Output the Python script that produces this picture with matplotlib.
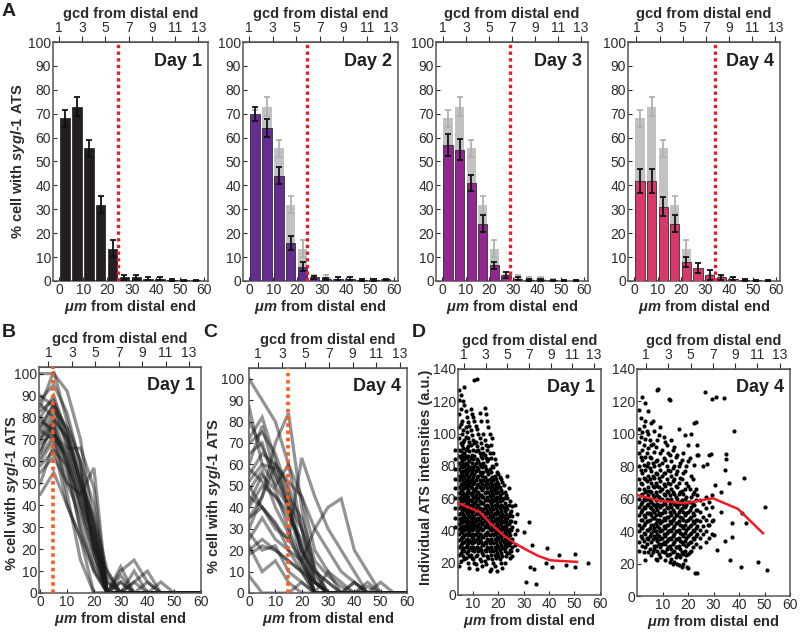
import matplotlib
matplotlib.use('Agg')
import matplotlib.pyplot as plt

plt.rcParams['font.family'] = ['Liberation Sans', 'DejaVu Sans']
plt.rcParams['mathtext.fontset'] = 'custom'
plt.rcParams['mathtext.it'] = 'Liberation Sans:italic:bold'
plt.rcParams['mathtext.rm'] = 'Liberation Sans:bold'
plt.rcParams['mathtext.bf'] = 'Liberation Sans:bold'

# ---------------- panel A: binned % of cells with ATS ----------------
bin_um = [2.5, 7.4, 12.3, 17.2, 22.1, 27.0, 31.9, 36.8, 41.7, 46.6, 51.5, 56.4]
day1_pct = [68, 73, 55.5, 32, 13.5, 1.5, 1.5, 1, 1, 0.5, 0.3, 0.3]
day1_err = [3.5, 4, 3.5, 3.5, 3.5, 1.2, 1, 0.6, 0.6, 0.3, 0.2, 0.2]
day2_pct = [70, 64, 44, 16, 6, 1.5, 0.8, 1, 1, 0.5, 0.5, 0.7]
day2_err = [3, 3.8, 3.5, 3, 2, 0.8, 0.5, 0.5, 0.5, 0.3, 0.3, 0.3]
day3_pct = [57, 55, 41, 24, 6.5, 2.5, 1, 0.5, 0.5, 0.3, 0.2, 0.2]
day3_err = [4.5, 4.5, 3.5, 3.5, 1.5, 1.2, 0.5, 0.3, 0.3, 0.2, 0.1, 0.1]
day4_pct = [42, 42, 31, 24, 8, 5.5, 2.5, 1.5, 1, 0.5, 0.3, 0.2]
day4_err = [5, 5, 4, 3.5, 2.2, 2, 2, 1, 0.5, 0.3, 0.2, 0.1]
day_names = ['Day 1', 'Day 2', 'Day 3', 'Day 4']
day_colors = ['#231f20', '#662d91', '#92278f', '#d9386b']
cutoff_um = [24.5, 24, 28.5, 34]

# ---------------- panels B / C: per-gonad profiles ----------------
prof_um = [0, 5, 10, 15, 20, 25, 30, 35, 40, 45, 50, 55, 60]
b_lines = [
    [100, 100, 92, 70, 30, 0, 0, 0, 0, 0, 0, 0, 0],
    [88, 95, 82, 58, 18, 0, 0, 0, 0, 0, 0, 0, 0],
    [75, 86, 75, 50, 22, 0, 0, 0, 0, 0, 0, 0, 0],
    [60, 70, 64, 45, 25, 0, 10, 15, 5, 0, 0, 0, 0],
    [45, 55, 40, 25, 10, 0, 0, 0, 0, 0, 0, 0, 0],
    [70, 80, 60, 40, 20, 0, 0, 0, 0, 0, 0, 0, 0],
    [80, 90, 72, 55, 30, 0, 12, 0, 5, 0, 0, 0, 0],
    [65, 76, 55, 30, 10, 0, 0, 0, 0, 0, 0, 0, 0],
    [86, 80, 70, 50, 30, 5, 0, 0, 0, 0, 0, 0, 0],
    [55, 62, 50, 45, 57, 0, 5, 0, 0, 0, 0, 0, 0],
    [62, 72, 66, 66, 48, 0, 0, 0, 0, 0, 0, 0, 0],
    [72, 83, 75, 60, 20, 10, 0, 5, 10, 0, 0, 0, 0],
    [50, 68, 40, 25, 0, 0, 0, 0, 0, 0, 0, 0, 0],
    [78, 75, 45, 15, 0, 0, 0, 0, 0, 0, 0, 0, 0],
    [83, 88, 72, 50, 35, 10, 0, 10, 0, 5, 0, 0, 0],
    [68, 73, 62, 40, 22, 5, 0, 0, 0, 0, 0, 0, 0],
    [74, 70, 50, 35, 15, 0, 5, 0, 0, 0, 0, 0, 0],
    [90, 85, 66, 45, 25, 0, 0, 0, 0, 0, 0, 0, 0],
    [58, 65, 58, 38, 18, 0, 0, 0, 0, 0, 0, 0, 0],
    [76, 86, 68, 48, 28, 0, 0, 5, 0, 0, 0, 0, 0],
    [64, 79, 71, 52, 32, 8, 0, 0, 0, 0, 0, 0, 0],
    [85, 101, 78, 60, 40, 0, 0, 0, 0, 0, 0, 0, 0],
    [70, 77, 58, 28, 12, 0, 0, 0, 0, 0, 0, 0, 0],
    [80, 72, 60, 42, 26, 0, 8, 0, 0, 0, 0, 0, 0],
]
c_lines = [
    [100, 90, 80, 60, 30, 5, 0, 0, 0, 0, 0, 0, 0],
    [87, 60, 50, 40, 20, 0, 0, 0, 0, 0, 0, 0, 0],
    [72, 82, 62, 40, 15, 0, 0, 0, 0, 0, 0, 0, 0],
    [55, 65, 60, 52, 45, 30, 20, 10, 5, 0, 0, 0, 0],
    [30, 45, 70, 84, 40, 10, 0, 0, 0, 0, 0, 0, 0],
    [20, 25, 20, 15, 10, 0, 0, 0, 0, 0, 0, 0, 0],
    [8, 0, 0, 0, 5, 0, 0, 0, 0, 0, 0, 0, 0],
    [40, 50, 45, 35, 25, 5, 0, 0, 0, 0, 0, 0, 0],
    [45, 40, 32, 25, 63, 45, 30, 20, 10, 0, 0, 0, 0],
    [25, 35, 25, 20, 15, 30, 40, 44, 20, 10, 0, 0, 0],
    [60, 78, 55, 40, 20, 10, 5, 0, 0, 0, 0, 0, 0],
    [18, 22, 20, 15, 10, 5, 0, 0, 5, 0, 0, 0, 0],
    [35, 45, 60, 50, 30, 10, 5, 0, 5, 0, 0, 0, 0],
    [65, 70, 50, 60, 45, 20, 10, 5, 0, 5, 0, 0, 0],
    [50, 40, 30, 25, 15, 0, 0, 0, 0, 0, 0, 0, 0],
    [28, 20, 22, 10, 5, 0, 10, 0, 0, 0, 0, 0, 0],
    [42, 55, 48, 30, 15, 5, 0, 0, 0, 0, 0, 0, 0],
    [70, 75, 65, 47, 20, 8, 0, 0, 0, 0, 0, 0, 0],
    [22, 10, 15, 5, 0, 0, 0, 0, 0, 0, 0, 0, 0],
    [52, 60, 58, 45, 35, 15, 8, 3, 0, 3, 0, 0, 0],
    [35, 40, 33, 20, 10, 0, 0, 0, 0, 0, 0, 0, 0],
    [48, 57, 40, 28, 12, 5, 0, 0, 0, 0, 5, 0, 0],
    [58, 52, 45, 38, 22, 0, 0, 0, 0, 0, 0, 0, 0],
    [80, 68, 55, 42, 30, 12, 0, 0, 0, 0, 0, 0, 0],
]
b_cut_um = 4.6
c_cut_um = 14.7

# ---------------- panel D: individual ATS intensities ----------------
d1_col_x = [3.0, 4.5, 5.5, 6.5, 7.5, 8.5, 9.5, 10.5, 11.5, 12.5, 13.5, 14.5,
            15.5, 16.5, 17.5, 18.5, 19.5, 20.5, 21.5, 22.5, 23.5, 24.5, 25.5,
            26.5, 27.5]
d1_col_y = [
    [90, 84, 78, 72, 66, 60, 54, 48, 42],
    [127, 121, 112, 104, 97, 90, 86, 82, 78, 74, 71, 67, 63, 60, 57, 54, 50, 47, 44, 41, 38, 34, 30, 25, 18],
    [108, 100, 93, 87, 83, 79, 75, 72, 68, 65, 62, 58, 55, 52, 48, 45, 42, 39, 36, 32, 28],
    [129, 118, 96, 88, 84, 80, 77, 73, 69, 66, 61, 59, 56, 53, 49, 46, 43, 40, 37, 33, 27, 22],
    [110, 101, 91, 85, 81, 76, 70, 67, 64, 60, 57, 51, 47, 44, 41, 38, 35, 31, 26],
    [105, 95, 89, 83, 78, 74, 71, 68, 63, 59, 55, 52, 49, 45, 42, 39, 34, 29, 24, 17],
    [112, 99, 87, 82, 77, 72, 66, 62, 58, 54, 50, 46, 43, 40, 36, 32, 28, 23],
    [133, 108, 94, 86, 80, 75, 70, 65, 61, 57, 53, 48, 44, 41, 37, 33, 27, 20],
    [134, 103, 92, 84, 79, 73, 68, 64, 60, 56, 51, 47, 43, 39, 35, 30, 25, 16],
    [113, 97, 88, 81, 76, 71, 67, 62, 58, 54, 50, 46, 42, 38, 34, 29, 22],
    [91, 85, 79, 74, 69, 65, 61, 57, 52, 48, 44, 40, 36, 31, 26, 18],
    [116, 96, 87, 80, 73, 68, 63, 59, 55, 51, 47, 43, 38, 33, 28, 21],
    [108, 90, 83, 77, 71, 66, 61, 56, 52, 48, 44, 39, 35, 30, 24],
    [100, 88, 78, 72, 67, 62, 58, 53, 49, 45, 41, 37, 32, 27, 15],
    [97, 80, 73, 68, 64, 59, 55, 50, 46, 42, 38, 33, 28, 22],
    [84, 74, 69, 65, 60, 56, 51, 47, 43, 39, 35, 30, 25, 18],
    [76, 70, 66, 61, 57, 52, 48, 44, 40, 36, 31, 26, 15],
    [73, 67, 62, 58, 54, 49, 45, 41, 37, 33, 28, 22],
    [70, 63, 59, 55, 50, 46, 42, 38, 34, 29, 24, 17],
    [64, 57, 52, 47, 43, 39, 35, 31, 27, 20],
    [74, 60, 53, 48, 44, 40, 36, 32, 26],
    [58, 51, 46, 41, 37, 33, 28, 23],
    [55, 49, 42, 35, 30, 24],
    [56, 45, 38, 31],
    [50, 40, 28],
]
d1_col2_x = [5.0, 6.0, 7.0, 8.0, 9.0, 10.0, 11.0, 12.0, 13.0, 14.0, 15.0, 16.0,
             17.0, 18.0, 19.0, 20.0, 21.0, 22.0, 23.0, 24.0, 25.0]
d1_col2_y = [
    [124, 115, 106, 94, 89, 85, 80, 76, 73, 69, 65, 61, 58, 55, 51, 48, 45, 42, 39, 35, 31, 26, 21],
    [120, 102, 95, 91, 86, 81, 77, 74, 70, 66, 63, 60, 56, 53, 50, 47, 43, 40, 36, 33, 29, 24],
    [114, 104, 98, 90, 86, 82, 78, 75, 71, 68, 62, 58, 55, 52, 48, 45, 42, 38, 34, 30, 23],
    [107, 97, 92, 86, 80, 77, 73, 69, 65, 61, 57, 53, 50, 46, 43, 40, 37, 32, 27, 20],
    [115, 102, 93, 85, 79, 75, 70, 67, 63, 59, 56, 52, 48, 44, 41, 37, 33, 30, 25],
    [110, 96, 90, 84, 78, 73, 69, 64, 60, 56, 52, 49, 45, 42, 38, 35, 30, 22],
    [105, 95, 89, 82, 77, 71, 66, 62, 58, 54, 50, 46, 42, 38, 34, 29, 24, 19],
    [100, 90, 83, 78, 74, 69, 64, 60, 56, 52, 48, 44, 40, 36, 32, 27],
    [108, 94, 86, 80, 75, 70, 66, 62, 57, 53, 49, 45, 41, 37, 33, 28, 21],
    [100, 88, 82, 76, 71, 66, 61, 57, 53, 49, 45, 41, 36, 31, 25],
    [112, 93, 85, 78, 70, 64, 59, 54, 50, 46, 42, 37, 32, 27, 19],
    [104, 92, 84, 75, 69, 64, 59, 55, 51, 46, 42, 38, 34, 29, 23],
    [93, 85, 76, 70, 65, 61, 57, 52, 48, 44, 40, 35, 30, 25, 16],
    [88, 79, 71, 66, 62, 58, 53, 49, 45, 41, 37, 32, 27, 20],
    [81, 72, 67, 63, 59, 54, 50, 46, 42, 38, 33, 28, 23],
    [75, 69, 64, 60, 55, 51, 47, 43, 39, 35, 30, 24],
    [72, 65, 60, 56, 52, 48, 44, 40, 36, 31, 26, 20],
    [68, 60, 54, 49, 45, 41, 37, 33, 29],
    [62, 55, 50, 46, 42, 38, 34, 30, 24],
    [66, 56, 49, 44, 39, 35, 31, 26],
    [52, 46, 40, 33, 27],
]
d1_out_x = [30.1, 32.1, 33.3, 30.7, 34.8, 32.3, 34.2, 39.0, 38.8, 41.2, 44.1, 46.5, 50.2, 50.2, 55.2]
d1_out_y = [39, 45, 31, 8, 7, 17.5, 16, 29, 20, 17.5, 25, 18.6, 25.4, 17.3, 19.6]
d1_mean_x = [4, 12.5, 17, 22, 26.5, 31, 36, 40.5, 51]
d1_mean_y = [57, 51.5, 44, 37, 32, 28, 24, 21.5, 20.5]

d2_col_x = [0.8, 2.0, 3.2, 4.4, 5.6, 6.8, 8.0, 9.2, 10.4, 11.6, 12.8, 14.0,
            15.2, 16.4, 17.6, 18.8, 20.0, 21.2, 22.4, 23.6, 24.8, 26.0, 27.2,
            28.4, 29.6]
d2_col_y = [
    [115, 103, 95, 88, 80, 72, 66, 60, 55, 50, 44, 40, 33, 28],
    [123, 101, 90, 84, 76, 69, 63, 58, 53, 47, 42, 36, 31],
    [119, 108, 97, 86, 78, 72, 64, 59, 54, 49, 45, 38, 30, 22],
    [114, 100, 91, 82, 74, 67, 62, 57, 51, 46, 41, 35, 27],
    [107, 93, 85, 77, 70, 64, 58, 54, 50, 44, 39, 33, 25],
    [102, 89, 80, 73, 67, 61, 56, 52, 48, 42, 37, 31, 29],
    [127, 96, 84, 75, 68, 62, 57, 53, 47, 43, 38, 34, 28, 22],
    [104, 88, 78, 71, 65, 59, 55, 50, 45, 40, 35, 30, 24],
    [98, 85, 76, 69, 63, 58, 53, 48, 43, 38, 33, 27],
    [93, 80, 72, 65, 60, 55, 49, 44, 39, 34, 29, 25],
    [121, 87, 77, 69, 62, 57, 52, 46, 41, 36, 31, 26, 21],
    [90, 79, 71, 64, 58, 53, 47, 42, 37, 32, 27, 20],
    [86, 75, 68, 61, 56, 50, 45, 40, 35, 30, 24],
    [103, 80, 70, 63, 57, 52, 46, 41, 36, 31, 25, 19],
    [84, 72, 65, 59, 54, 48, 43, 38, 33, 27, 18],
    [99, 77, 66, 60, 55, 50, 44, 39, 34, 28, 22],
    [93, 83, 68, 58, 52, 47, 42, 37, 32, 26, 17],
    [100, 74, 61, 55, 49, 44, 39, 33, 28],
    [107, 81, 64, 56, 50, 45, 40, 35],
    [93, 87, 62, 53, 47, 43, 38, 14],
    [59, 52, 46, 41, 36, 30],
    [80, 57, 49, 43, 38],
    [61, 54, 47, 40, 33],
    [87, 58, 50, 44, 36],
    [62, 55, 46, 38],
]
d2_col2_x = [1.4, 2.6, 3.8, 5.0, 6.2, 7.4, 8.6, 9.8, 11.0, 12.2, 13.4, 14.6,
             15.8, 17.0, 18.2, 19.4, 20.6, 21.8, 23.0]
d2_col2_y = [
    [110, 98, 86, 78, 70, 62, 57, 52, 47, 42, 37],
    [105, 93, 81, 73, 66, 60, 55, 50, 44, 39, 34, 27],
    [102, 88, 80, 71, 65, 60, 56, 51, 46, 41, 36, 32],
    [96, 86, 79, 72, 65, 59, 55, 51, 47, 42, 37, 29],
    [108, 94, 82, 74, 68, 62, 57, 53, 48, 44, 40, 35, 27],
    [92, 83, 76, 70, 64, 59, 55, 50, 45, 40, 36, 31, 23],
    [99, 81, 73, 67, 61, 56, 51, 47, 42, 37, 32, 26],
    [90, 82, 74, 66, 60, 56, 51, 46, 41, 36, 32, 28],
    [95, 84, 76, 68, 62, 57, 52, 47, 42, 37, 32, 27, 22],
    [88, 78, 70, 64, 59, 54, 49, 44, 40, 35, 30, 25],
    [96, 83, 74, 66, 60, 55, 50, 45, 40, 35, 29, 23],
    [92, 80, 72, 63, 57, 52, 48, 43, 38, 33, 28, 21],
    [87, 77, 67, 60, 55, 50, 45, 40, 35, 30, 26, 20],
    [82, 73, 64, 58, 53, 49, 44, 39, 34, 29, 24],
    [88, 76, 63, 57, 52, 47, 42, 37, 32, 26, 20],
    [80, 70, 61, 56, 51, 46, 41, 36, 31, 25],
    [85, 66, 58, 53, 48, 43, 38, 33, 27],
    [72, 63, 57, 51, 46, 41, 36, 30],
    [66, 59, 53, 47, 42, 37, 32],
]
d2_out_x = [8.3, 12.7, 26.5, 29.5, 31.0, 34.2, 38.1, 23.3, 41.9, 34.9, 34.9, 34.6,
            36.2, 30.4, 33.0, 29.1, 27.6, 24.0, 33.0, 37.4, 37.4, 41.3, 42.6,
            50.3, 31.4, 34.6, 36.4, 40.6, 47.4, 50.9, 22.7, 19.5, 30.1, 29.7, 27.8]
d2_out_y = [127.7, 121.7, 126, 121.5, 123, 122, 102, 107.5, 72.6, 87.4, 84.5, 78,
            69.5, 68.5, 64.4, 87.4, 81.2, 87, 52, 44.8, 36.6, 51, 45.2,
            55, 28.4, 34.1, 22.4, 18.1, 21.2, 16, 14.4, 17.7, 37.6, 46.9, 43.8]
d2_mean_x = [0, 9.2, 18.8, 29.7, 39.6, 49.4]
d2_mean_y = [62.3, 58.6, 57.2, 60.3, 53.7, 38.7]

gcd_ticks = [1, 3, 5, 7, 9, 11, 13]

W, H = 800, 632
fig = plt.figure(figsize=(W / 100, H / 100), dpi=100)

TXT = '#2b2b2b'
SPINE = '#555555'
TICK_FS = 10
LAB_FS = 10.5
um_label = r'$\mathit{\mu m}$ from distal end'
pct_label = r'% cell with $\mathit{sygl}$-$\mathit{1}$ ATS'


def make_ax(l, r, t, b):
    return fig.add_axes([l / W, 1 - b / H, (r - l) / W, (b - t) / H])


def style(ax, um0, um13, xlim, ylim):
    ax.set_xlim(*xlim)
    ax.set_ylim(*ylim)
    for s in ax.spines.values():
        s.set_color(SPINE)
        s.set_linewidth(1.1)
    ax.tick_params(labelsize=TICK_FS, colors=TXT, direction='in', length=3, pad=1.5)
    ax.set_xlabel(um_label, fontsize=LAB_FS, fontweight='bold', color=TXT, labelpad=1)
    step = (um13 - um0) / 12.0
    sec = ax.secondary_xaxis('top', functions=(lambda u: 1 + (u - um0) / step,
                                                 lambda g: um0 + (g - 1) * step))
    sec.set_xticks(gcd_ticks)
    sec.tick_params(labelsize=TICK_FS, colors=TXT, direction='out', length=4, pad=1)
    sec.spines['top'].set_color(SPINE)
    sec.set_xlabel('gcd from distal end', fontsize=LAB_FS, fontweight='bold', color=TXT, labelpad=2)
    return sec


def day_text(ax, name):
    ax.text(0.96, 0.955, name, transform=ax.transAxes, ha='right', va='top',
            fontsize=13, fontweight='bold', color='#231f20')


def ylab(ax, text, x, y):
    ax.set_ylabel(text, fontsize=LAB_FS, fontweight='bold', color=TXT)
    ax.yaxis.set_label_coords(x, y)


# ---- panel A ----
a_boxes = [(53, 208), (243, 398), (436, 588), (628, 780)]
a_gcd = [(0, 57.5), (0, 58.4), (0.5, 58.4), (1, 59.6)]
a_pct = [day1_pct, day2_pct, day3_pct, day4_pct]
a_err = [day1_err, day2_err, day3_err, day4_err]
for i in range(4):
    l, r = a_boxes[i]
    ax = make_ax(l, r, 42, 281)
    if i > 0:
        ax.bar(bin_um, day1_pct, width=3.9, color='#c2c2c2', zorder=1)
        ax.errorbar(bin_um, day1_pct, yerr=day1_err, fmt='none', ecolor='#b0b0b0',
                    elinewidth=1.3, capsize=2, capthick=1.3, zorder=2)
    ax.bar(bin_um, a_pct[i], width=3.9, color=day_colors[i], edgecolor='#1a1a1a',
           linewidth=0.5, zorder=3)
    ax.errorbar(bin_um, a_pct[i], yerr=a_err[i], fmt='none', ecolor='#111111',
                elinewidth=1.3, capsize=2, capthick=1.3, zorder=4)
    ax.axvline(cutoff_um[i], color='#e3202a', lw=2.4, ls=(0, (1, 1)), zorder=5)
    style(ax, a_gcd[i][0], a_gcd[i][1], (-2.5, 61.5), (0, 100))
    ax.set_xticks([0, 10, 20, 30, 40, 50, 60])
    ax.set_yticks(range(0, 101, 10))
    if i == 0:
        ylab(ax, pct_label, -0.165, 0.5)
    day_text(ax, day_names[i])

# ---- panels B and C ----
for lines, box, gcd, cut, xlim, ylim, name, lx, ly in [
        (b_lines, (39, 201, 367, 593), (3, 55.5), b_cut_um, (-0.5, 60), (0, 103), 'Day 1', -0.112, 0.44),
        (c_lines, (249, 407, 368, 593), (3.5, 57.3), c_cut_um, (0, 60), (0, 105), 'Day 4', -0.165, 0.43)]:
    ax = make_ax(*box)
    for ys in lines:
        ax.plot(prof_um, ys, color='#1a1a1a', alpha=0.47, lw=2.3, solid_joinstyle='miter')
    ax.axvline(cut, color='#ff5a1f', lw=2.6, ls=(0, (1, 1)), zorder=5)
    style(ax, gcd[0], gcd[1], xlim, ylim)
    ax.set_xticks([0, 10, 20, 30, 40, 50, 60])
    ax.set_yticks(range(0, 101, 10))
    if name == 'Day 4':
        ax.tick_params(axis='y', pad=3.5)
    ylab(ax, pct_label, lx, ly)
    day_text(ax, name)

# ---- panel D ----
for cols, ox, oy, mx, my, box, gcd, xlim, name in [
        ([(d1_col_x, d1_col_y), (d1_col2_x, d1_col2_y)], d1_out_x, d1_out_y,
         d1_mean_x, d1_mean_y, (458, 601, 369, 595), (6.3, 57.8), (4, 60.5), 'Day 1'),
        ([(d2_col_x, d2_col_y), (d2_col2_x, d2_col2_y)], d2_out_x, d2_out_y,
         d2_mean_x, d2_mean_y, (637, 790, 369, 596), (3.5, 56), (0, 60), 'Day 4')]:
    ax = make_ax(*box)
    xs, ys = [], []
    for cx, cy in cols:
        for x, col in zip(cx, cy):
            xs += [x] * len(col)
            ys += col
    xs += ox
    ys += oy
    ax.scatter(xs, ys, s=9, color='k', linewidths=0, zorder=2, clip_on=False)
    ax.plot(mx, my, color='#ee1c25', lw=1.8, zorder=3)
    style(ax, gcd[0], gcd[1], xlim, (0, 140))
    ax.set_xticks([10, 20, 30, 40, 50, 60])
    ax.set_yticks(range(0, 141, 20))
    if name == 'Day 1':
        ylab(ax, 'Individual ATS intensities (a.u.)', -0.178, 0.52)
    day_text(ax, name)

for letter, x, y in [('A', 2, 3), ('B', 2, 324), ('C', 203, 324), ('D', 412, 324)]:
    fig.text(x / W, 1 - y / H, letter, fontsize=14, fontweight='bold',
             color='#231f20', ha='left', va='top')

fig.savefig('out.png', dpi=100)
